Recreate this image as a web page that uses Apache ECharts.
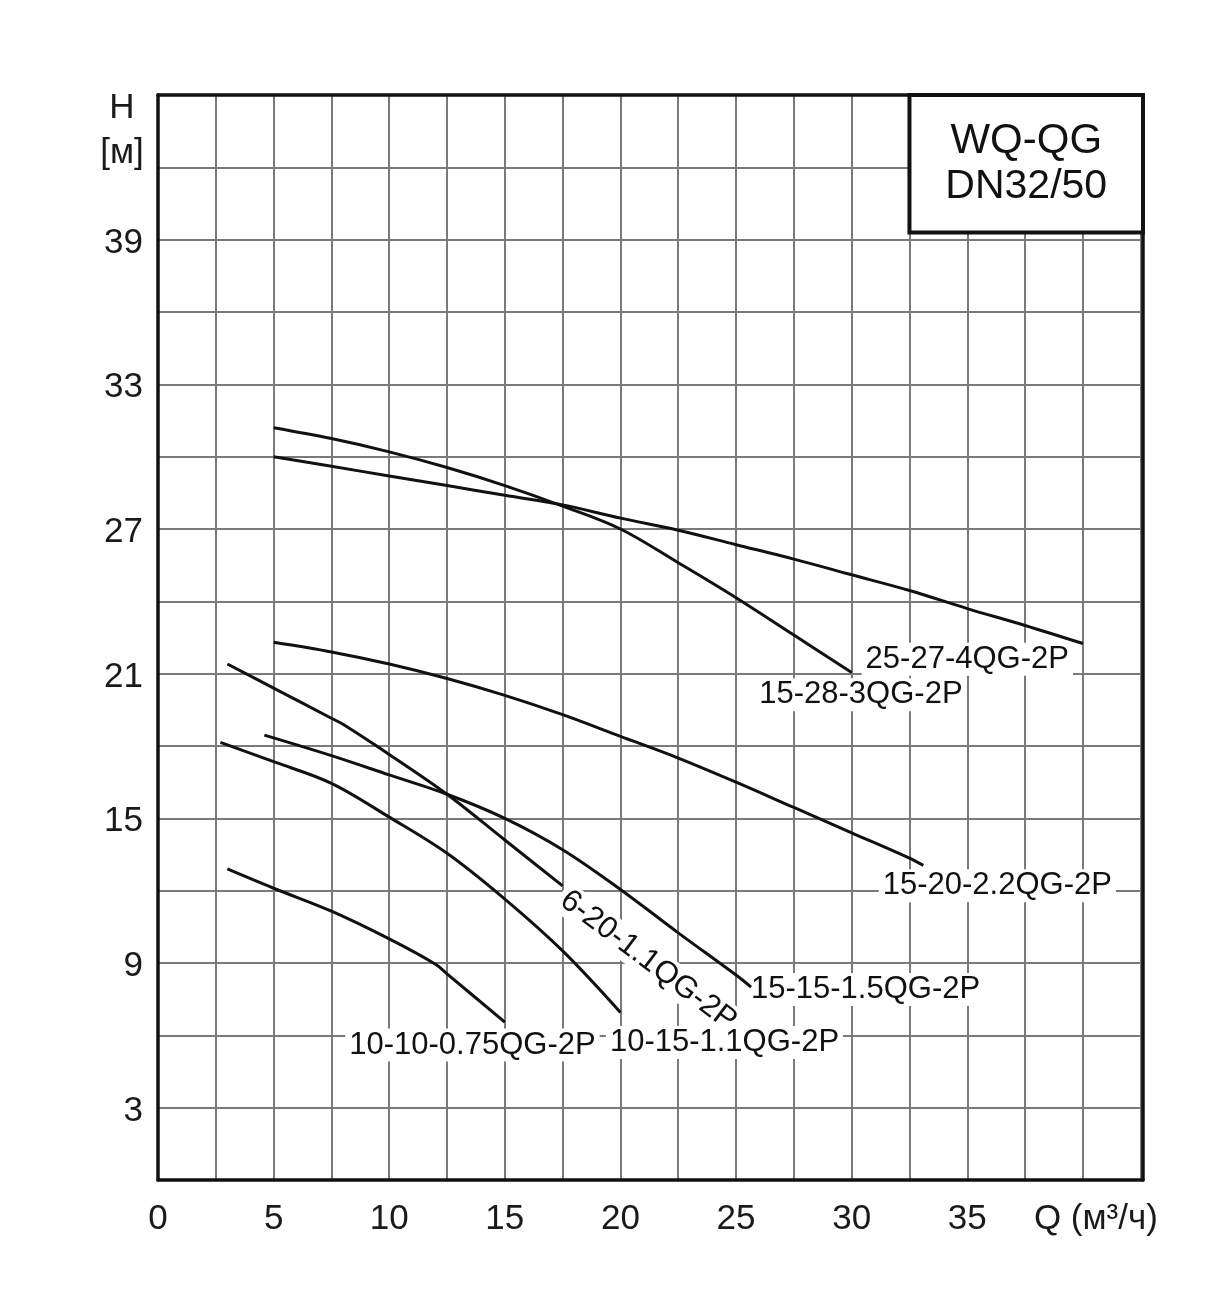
<!DOCTYPE html>
<html><head><meta charset="utf-8">
<script src="https://cdn.jsdelivr.net/npm/echarts@6/dist/echarts.min.js"></script>
<style>html,body{margin:0;padding:0;background:#fff}#c{width:1231px;height:1299px}</style>
</head><body><div id="c"></div>
<script>
// ---- data ----
const q_25_27_4 = [5, 7.5, 10, 12.5, 15, 17.5, 20, 22.5, 25, 27.5, 30, 32.5, 35, 37.5, 40];
const h_25_27_4 = [30.0, 29.6, 29.2, 28.8, 28.4, 28.0, 27.45, 26.95, 26.35, 25.75, 25.1, 24.45, 23.7, 23.0, 22.25];

const q_15_28_3 = [5, 7.5, 10, 12.5, 15, 17.5, 20, 22.5, 25, 27.5, 30];
const h_15_28_3 = [31.2, 30.75, 30.2, 29.55, 28.8, 27.95, 27.0, 25.6, 24.15, 22.6, 21.05];

const q_15_20_22 = [5, 7.5, 10, 12.5, 15, 17.5, 20, 22.5, 25, 27.5, 30, 32.5, 33.1];
const h_15_20_22 = [22.3, 21.9, 21.4, 20.8, 20.1, 19.3, 18.4, 17.5, 16.5, 15.45, 14.4, 13.35, 13.05];

const q_6_20_11 = [3, 5, 7.5, 8, 10, 12.5, 15, 17.5];
const h_6_20_11 = [21.4, 20.4, 19.15, 18.9, 17.65, 16.0, 14.1, 12.2];

const q_15_15_15 = [4.6, 7.5, 10, 12.5, 15, 17.5, 20, 22.5, 25, 25.65];
const h_15_15_15 = [18.45, 17.6, 16.8, 16.0, 15.0, 13.7, 12.05, 10.25, 8.5, 8.0];

const q_10_15_11 = [2.7, 5, 7.5, 10, 12.5, 15, 17.5, 20];
const h_10_15_11 = [18.15, 17.35, 16.45, 15.05, 13.55, 11.65, 9.5, 6.95];

const q_10_10_075 = [3, 5, 7.5, 10, 12, 12.5, 15];
const h_10_10_075 = [12.9, 12.1, 11.15, 10.0, 8.95, 8.55, 6.55];

const curveNames = ['25-27-4QG-2P', '15-28-3QG-2P', '15-20-2.2QG-2P', '6-20-1.1QG-2P', '15-15-1.5QG-2P', '10-15-1.1QG-2P', '10-10-0.75QG-2P'];
const curveQ = [q_25_27_4, q_15_28_3, q_15_20_22, q_6_20_11, q_15_15_15, q_10_15_11, q_10_10_075];
const curveH = [h_25_27_4, h_15_28_3, h_15_20_22, h_6_20_11, h_15_15_15, h_10_15_11, h_10_10_075];

// label anchors (data coordinates) and rotation
const labelQ = [35.0, 30.4, 36.3, 21.2, 30.6, 24.5, 13.6];
const labelH = [21.6, 20.13, 12.2, 9.1, 7.9, 5.7, 5.6];
const labelRot = [0, 0, 0, -37, 0, 0, 0];

const xTickLabels = [0, 5, 10, 15, 20, 25, 30, 35];
const xAxisName = 'Q (м³/ч)';
const yTickLabels = [3, 9, 15, 21, 27, 33, 39];
const yAxisName = ['H', '[м]'];
const boxText = ['WQ-QG', 'DN32/50'];

// ---- chart ----
const FONT = 'Liberation Sans, Arial, sans-serif';
const chart = echarts.init(document.getElementById('c'), null, {renderer: 'canvas'});
const near = (a, b) => Math.abs(a - b) < 1e-6;

const lineSeries = curveNames.map((n, i) => ({
  name: n, type: 'line', smooth: 0.35, symbol: 'none', silent: true,
  data: curveQ[i].map((q, j) => [q, curveH[i][j]]),
  lineStyle: {color: '#111', width: 3}, z: 4
}));

const labelSeries = {
  type: 'scatter', symbolSize: 1, silent: true, z: 3,
  itemStyle: {color: 'rgba(0,0,0,0)'},
  data: curveNames.map((n, i) => ({
    name: n, value: [labelQ[i], labelH[i]],
    label: {rotate: labelRot[i]}
  })),
  label: {
    show: true, position: 'inside', formatter: '{b}',
    fontSize: 31, fontFamily: FONT, color: '#111', opacity: 1,
    textBorderWidth: 0, textBorderColor: 'transparent',
    backgroundColor: '#fff', padding: [1, 4]
  }
};

const axisText = {fontSize: 35, fontFamily: FONT, color: '#1a1a1a'};

chart.setOption({
  animation: false,
  backgroundColor: '#fff',
  grid: {left: 158, top: 95, width: 985, height: 1085, containLabel: false},
  xAxis: [{
    type: 'value', min: 0, max: 42.6, interval: 2.5,
    axisLine: {show: true, onZero: false, lineStyle: {color: '#111', width: 3.5}},
    axisTick: {show: false},
    splitLine: {show: true, lineStyle: {color: '#7a7a7a', width: 2}},
    axisLabel: Object.assign({}, axisText, {
      margin: 22, showMaxLabel: true, showMinLabel: true,
      formatter: v => {
        if (xTickLabels.some(t => near(t, v))) return String(v);
        if (near(v, 40)) return '{q|' + xAxisName + '}';
        return '';
      },
      rich: {q: Object.assign({}, axisText, {padding: [0, 0, 0, 26]})}
    })
  }, {
    type: 'value', position: 'top', min: 0, max: 42.6,
    axisLine: {show: true, onZero: false, lineStyle: {color: '#111', width: 3.5}},
    axisTick: {show: false}, axisLabel: {show: false}, splitLine: {show: false}
  }],
  yAxis: [{
    type: 'value', min: 0, max: 45, interval: 3,
    axisLine: {show: true, onZero: false, lineStyle: {color: '#111', width: 3.5}},
    axisTick: {show: false},
    splitLine: {show: true, lineStyle: {color: '#7a7a7a', width: 2}},
    axisLabel: Object.assign({}, axisText, {
      margin: 15,
      formatter: v => yTickLabels.some(t => near(t, v)) ? '{n|' + v + '}' : '',
      rich: {n: Object.assign({}, axisText, {padding: [7, 0, 0, 0]})}
    })
  }, {
    type: 'value', position: 'right', min: 0, max: 45,
    axisLine: {show: true, onZero: false, lineStyle: {color: '#111', width: 3.5}},
    axisTick: {show: false}, axisLabel: {show: false}, splitLine: {show: false}
  }],
  series: lineSeries.concat([labelSeries])
});

// box in top-right corner and axis title, placed from axis coordinates
const p1 = chart.convertToPixel({xAxisIndex: 0, yAxisIndex: 0}, [32.5, 45]);
const p2 = chart.convertToPixel({xAxisIndex: 0, yAxisIndex: 0}, [42.6, 39.3]);
const cx = (p1[0] + p2[0]) / 2, cy = (p1[1] + p2[1]) / 2;
const yTop = chart.convertToPixel({yAxisIndex: 0}, 45);
const xLeft = chart.convertToPixel({xAxisIndex: 0}, 0);

chart.setOption({
  graphic: [
    {type: 'rect', z: 10, shape: {x: p1[0], y: p1[1], width: p2[0] - p1[0], height: p2[1] - p1[1]},
     style: {fill: '#fff', stroke: '#111', lineWidth: 4}},
    {type: 'text', z: 11, x: cx, y: cy - 22,
     style: {text: boxText[0], fontSize: 42, fontFamily: FONT, fill: '#111', textAlign: 'center', textVerticalAlign: 'middle'}},
    {type: 'text', z: 11, x: cx, y: cy + 23,
     style: {text: boxText[1], fontSize: 41, fontFamily: FONT, fill: '#111', textAlign: 'center', textVerticalAlign: 'middle'}},
    {type: 'text', z: 11, x: xLeft - 36, y: yTop + 13,
     style: {text: yAxisName[0], fontSize: 35, fontFamily: FONT, fill: '#1a1a1a', textAlign: 'center', textVerticalAlign: 'middle'}},
    {type: 'text', z: 11, x: xLeft - 36, y: yTop + 58,
     style: {text: yAxisName[1], fontSize: 35, fontFamily: FONT, fill: '#1a1a1a', textAlign: 'center', textVerticalAlign: 'middle'}}
  ]
});
</script></body></html>
